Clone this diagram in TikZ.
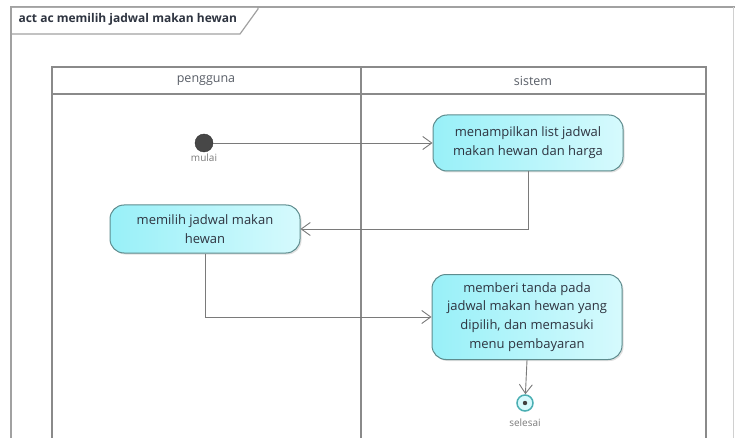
\documentclass[tikz,border=0pt]{standalone}
\usepackage{fontspec}
\setmainfont{Open Sans}
\usetikzlibrary{arrows.meta,shadows}
\definecolor{lanegray}{HTML}{8A8A8A}
\definecolor{edgegray}{HTML}{7A7A7A}
\definecolor{actborder}{HTML}{5E8C8E}
\definecolor{actleft}{HTML}{98F0F8}
\definecolor{actright}{HTML}{D6FAFD}
\definecolor{txt}{HTML}{2E3440}
\definecolor{lbl}{HTML}{7A7A7A}
\definecolor{finring}{HTML}{4BAFB3}
\tikzset{
  lane/.style={draw=lanegray, line width=1.4pt},
  actbox/.style={rectangle, rounded corners=14pt, draw=actborder, line width=1pt,
    left color=actleft, right color=actright, text=txt, align=center,
    font=\fontsize{13}{18.8}\selectfont,
    drop shadow={shadow xshift=1.5pt, shadow yshift=-1.5pt, opacity=0.25}},
  flow/.style={draw=edgegray, line width=0.9pt, -{Straight Barb[length=9pt,width=13pt]}},
  smalllbl/.style={text=lbl, font=\fontsize{10}{11}\selectfont},
  headtxt/.style={text=txt!80, font=\fontsize{12.5}{14}\selectfont}
}
\begin{document}
\begin{tikzpicture}[x=1pt,y=-1pt]
\useasboundingbox (0,0) rectangle (735,438);
% outer frame
\draw[draw=lanegray!80, line width=1.2pt] (11,438) -- (11,7) -- (735,7);
\draw[draw=lanegray!40, line width=0.8pt] (733,7) -- (733,438);
\fill[white] (12,8) -- (257,8) -- (239,33) -- (12,33) -- cycle;
\draw[draw=lanegray!80, line width=1.2pt] (11,34) -- (240,34) -- (258,9) -- (258,7);
\node[anchor=west, text=txt, font=\bfseries\fontsize{12}{13}\selectfont] (title) at (15,19) {act ac memilih jadwal makan hewan};
% swimlanes
\draw[lane] (52,438) -- (52,67) -- (706,67) -- (706,438);
\draw[lane] (52,94) -- (706,94);
\draw[lane] (361,67) -- (361,438);
\node[headtxt] (h1) at (206,81) {pengguna};
\node[headtxt] (h2) at (533,81) {sistem};
% start
\node[circle, fill=black!72, draw=black!80, minimum size=18pt, inner sep=0pt] (start) at (204,143) {};
\node[smalllbl] (startlbl) at (204,158) {mulai};
% actions
\node[actbox, minimum width=190pt, minimum height=56pt] (a1) at (528,143) {menampilkan list jadwal\\makan hewan dan harga};
\node[actbox, minimum width=190pt, minimum height=48pt] (a2) at (205,229) {memilih jadwal makan\\hewan};
\node[actbox, minimum width=190pt, minimum height=85pt] (a3) at (527,317) {memberi tanda pada\\jadwal makan hewan yang\\dipilih, dan memasuki\\menu pembayaran};
% final
\node[circle, draw=finring, fill=actright, line width=1.5pt, minimum size=16pt, inner sep=0pt] (fin) at (525,403) {};
\fill[black!75] (fin.center) circle (2.2pt);
\node[smalllbl] (finlbl) at (525,423) {selesai};
% flows
\draw[flow] (start) -- (a1);
\draw[flow] (a1.south) |- (a2.east);
\draw[flow] (a2.south) |- (a3.west);
\draw[flow] (a3.south) -- (fin);
\end{tikzpicture}
\end{document}
